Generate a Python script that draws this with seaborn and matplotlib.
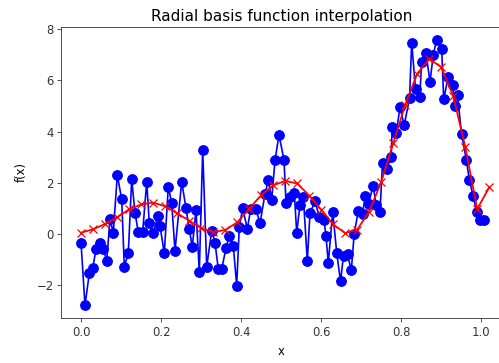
import matplotlib
matplotlib.use("Agg")
import matplotlib.pyplot as plt
import seaborn as sns
import numpy as np

# noisy samples (blue)
data_x_px = [81.0, 85.0, 89.3, 92.7, 96.0, 100.0, 103.3, 106.7, 110.0, 113.3,
             117.3, 121.7, 124.3, 128.3, 131.7, 135.0, 138.3, 142.7, 146.7, 149.3,
             153.3, 157.7, 160.0, 164.3, 168.3, 171.7, 175.0, 181.7, 186.0, 189.3,
             192.3, 196.0, 199.3, 202.7, 206.7, 211.7, 215.0, 218.3, 221.7, 226.0,
             229.3, 233.3, 236.7, 239.3, 242.7, 247.3, 250.7, 256.0, 260.0, 265.0,
             268.3, 271.7, 275.0, 279.0, 284.0, 286.0, 290.0, 294.3, 296.7, 300.0,
             303.3, 307.3, 310.0, 315.0, 319.3, 324.0, 326.0, 328.3, 332.7, 336.7,
             340.5, 343.5, 347.5, 351.3, 354.2, 358.3, 362.5, 365.3, 368.7, 373.0,
             376.3, 380.0, 382.5, 386.7, 391.2, 392.2, 396.2, 400.0, 404.2, 409.5,
             411.7, 415.5, 419.7, 421.7, 426.0, 430.0, 433.3, 436.7, 441.7, 443.7,
             448.3, 452.7, 454.5, 457.5, 461.5, 466.3, 469.3, 473.0, 476.7, 480.0,
             483.7]
data_x = [(p - 81.2) / 400.0 for p in data_x_px]
data_y = [-0.34, -2.80, -1.54, -1.35, -0.60, -0.37, -0.60, -1.05, 0.57, 0.05,
          2.30, 1.35, -1.28, -0.76, 2.13, 0.83, 0.06, 0.09, 2.04, 0.41,
          0.02, 0.70, 0.31, -0.76, 1.85, 1.20, -0.66, 2.04, 1.00, 0.18,
          -0.50, 0.93, -1.48, 3.28, -1.28, 0.12, -0.34, -1.38, -1.38, -0.55,
          -0.08, -0.47, -2.02, 0.28, 1.00, 0.20, 0.96, 0.96, 0.41, 1.56,
          2.10, 1.34, 2.88, 3.87, 2.89, 1.22, 1.45, 1.61, 0.05, 1.13,
          1.45, -1.05, 0.80, 1.28, 0.67, 0.54, -0.10, -1.13, 0.87, -0.73,
          -1.85, -0.86, -0.80, -1.43, 0.01, 0.89, 0.77, 1.50, 1.18, 1.88,
          1.13, 0.87, 2.77, 2.55, 3.00, 4.18, 3.93, 4.96, 4.25, 5.30,
          7.48, 5.66, 5.37, 6.71, 7.06, 5.95, 7.01, 7.60, 7.22, 5.27,
          6.15, 5.82, 5.02, 5.43, 3.92, 2.90, 2.12, 1.50, 0.87, 0.55,
          0.54]

# interpolated values (red)
interp_x = [round(0.03 * k, 2) for k in range(35)]
interp_y = [0.05, 0.18, 0.39, 0.65, 0.96, 1.15, 1.22, 1.08, 0.80, 0.52,
            0.22, 0.07, 0.15, 0.45, 0.98, 1.52, 1.90, 2.07, 1.97, 1.50,
            0.95, 0.37, 0.03, 0.17, 0.87, 2.03, 3.54, 5.05, 6.26, 6.85,
            6.52, 5.40, 3.41, 0.97, 1.82]

W, H = 499, 363
fig = plt.figure(figsize=(W / 100, H / 100), dpi=100)
ax = fig.add_axes([61.2 / W, (H - 318) / H, 440 / W, 291 / H])

sns.lineplot(x=data_x, y=data_y, ax=ax, color="blue", marker="o",
             markersize=7, markeredgecolor="blue", markerfacecolor="blue",
             linewidth=1.2, estimator=None, sort=False)
sns.lineplot(x=interp_x, y=interp_y, ax=ax, color="red", marker="x",
             markersize=5.5, markeredgecolor="red", markeredgewidth=0.9,
             linewidth=1.3, estimator=None, sort=False)

ax.set_xlim(-0.05, 1.05)
ax.set_ylim(-3.29, 8.09)
ax.set_xticks([0.0, 0.2, 0.4, 0.6, 0.8, 1.0])
ax.set_xticklabels(["0.0", "0.2", "0.4", "0.6", "0.8", "1.0"])
ax.set_yticks([-2, 0, 2, 4, 6, 8])
ax.set_yticklabels(["\u22122", "0", "2", "4", "6", "8"])
ax.tick_params(labelsize=8.4, length=2.8, width=0.6, colors="#333333", pad=2.8)
for s in ax.spines.values():
    s.set_linewidth(0.6)
    s.set_color("#333333")
ax.set_xlabel("x", fontsize=8.4, labelpad=4.5)
ax.set_ylabel("f(x)", fontsize=8.4, labelpad=6)
ax.set_title("Radial basis function interpolation", fontsize=11, pad=4.5)

fig.savefig("out.png", dpi=100)
